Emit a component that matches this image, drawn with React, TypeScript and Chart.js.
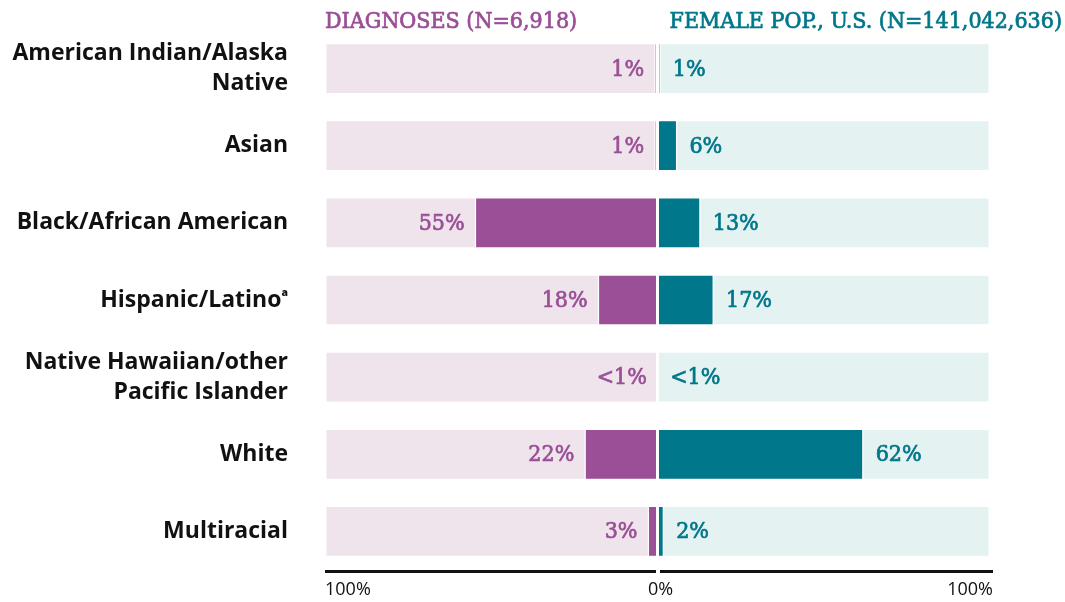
import React, { useEffect, useRef } from "react";
import { Chart, registerables } from "chart.js";

Chart.register(...registerables);

const categories: (string | string[])[] = [
  ["American Indian/Alaska", "Native"],
  "Asian",
  "Black/African American",
  "Hispanic/Latino\u1D43",
  ["Native Hawaiian/other", "Pacific Islander"],
  "White",
  "Multiracial",
];
const diagnosesValues = [1, 1, 55, 18, 0.2, 22, 3];
const populationValues = [1, 6, 13, 17, 0.2, 62, 2];
const diagnosesLabels = ["1%", "1%", "55%", "18%", "<1%", "22%", "3%"];
const populationLabels = ["1%", "6%", "13%", "17%", "<1%", "62%", "2%"];
const leftTitle = "DIAGNOSES (N=6,918)";
const rightTitle = "FEMALE POP., U.S. (N=141,042,636)";
const axisTickLabels = ["100%", "0%", "100%"];

const PURPLE = "#9A4F97";
const TEAL = "#00778A";
const PINK_BG = "#EFE3EC";
const TEAL_BG = "#E4F2F2";
const SLAB = "'DejaVu Serif Condensed', 'DejaVu Serif', serif";
const SANS = "'Open Sans', Lato, sans-serif";

function boldText(ctx: any, text: string, x: number, y: number, color: string) {
  ctx.fillStyle = color;
  ctx.strokeStyle = color;
  ctx.lineWidth = 0.7;
  ctx.lineJoin = "round";
  ctx.fillText(text, x, y);
  ctx.strokeText(text, x, y);
}

const overlayPlugin = {
  id: "overlay",
  afterDatasetsDraw(chart: any) {
    const { ctx, chartArea, scales } = chart;
    const x = scales.x;
    const y = scales.y;
    ctx.save();
    // value labels
    ctx.font = `23px ${SLAB}`;
    ctx.textBaseline = "middle";
    categories.forEach((_, i) => {
      const cy = y.getPixelForValue(i) + 1;
      ctx.textAlign = "right";
      boldText(ctx, diagnosesLabels[i], x.getPixelForValue(-diagnosesValues[i]) - 10, cy, PURPLE);
      ctx.textAlign = "left";
      boldText(ctx, populationLabels[i], x.getPixelForValue(populationValues[i]) + 12, cy, TEAL);
    });
    // titles
    ctx.font = `23px ${SLAB}`;
    ctx.textBaseline = "alphabetic";
    ctx.textAlign = "left";
    boldText(ctx, leftTitle, chartArea.left, 28, PURPLE);
    ctx.textAlign = "right";
    boldText(ctx, rightTitle, chart.width - 3, 28, TEAL);
    // axis
    const x0 = x.getPixelForValue(-100);
    const xc = x.getPixelForValue(0);
    const x1 = x.getPixelForValue(100);
    const ay = chartArea.bottom + 1.5;
    ctx.strokeStyle = "#111";
    ctx.lineWidth = 3;
    ctx.beginPath();
    ctx.moveTo(x0, ay);
    ctx.lineTo(xc - 1.5, ay);
    ctx.moveTo(xc + 2.5, ay);
    ctx.lineTo(x1 + 3, ay);
    ctx.stroke();
    ctx.font = `18px ${SANS}`;
    ctx.fillStyle = "#111";
    ctx.textBaseline = "middle";
    ctx.textAlign = "left";
    ctx.fillText(axisTickLabels[0], x0, ay + 18);
    ctx.textAlign = "center";
    ctx.fillText(axisTickLabels[1], xc + 3, ay + 18);
    ctx.textAlign = "right";
    ctx.fillText(axisTickLabels[2], x1 + 3, ay + 18);
    ctx.restore();
  },
};

export default function App() {
  const ref = useRef<HTMLCanvasElement>(null);
  useEffect(() => {
    if (!ref.current) return;
    const common = {
      borderColor: "#ffffff",
      borderWidth: 1.5,
      borderSkipped: false,
      grouped: false,
      barPercentage: 0.67,
      categoryPercentage: 1,
    };
    const chart = new Chart(ref.current, {
      type: "bar",
      data: {
        labels: categories as any,
        datasets: [
          { ...common, label: "Diagnoses", data: diagnosesValues.map((v) => [-v, 0]) as any, backgroundColor: PURPLE, order: 1 },
          { ...common, label: "Female pop.", data: populationValues.map((v) => [0, v]) as any, backgroundColor: TEAL, order: 1 },
          { ...common, label: "bgL", data: categories.map(() => [-100, 0]) as any, backgroundColor: PINK_BG, order: 2 },
          { ...common, label: "bgR", data: categories.map(() => [0, 100]) as any, backgroundColor: TEAL_BG, order: 2 },
        ],
      },
      options: {
        indexAxis: "y",
        animation: false,
        responsive: false,
        maintainAspectRatio: false,
        layout: { padding: { top: 30, right: 75, bottom: 32, left: 0 } },
        plugins: { legend: { display: false }, tooltip: { enabled: false } },
        scales: {
          x: { display: false, min: -100, max: 100 },
          y: {
            grid: { display: false, drawTicks: false, tickLength: 0 },
            border: { display: false },
            ticks: {
              padding: 37,
              color: "#111",
              font: { family: SANS, size: 23, weight: "bold", lineHeight: 1.3 },
            },
            afterFit(scale: any) {
              scale.width = 325;
              scale.paddingTop = 0;
              scale.paddingBottom = 0;
            },
          },
        },
      } as any,
      plugins: [overlayPlugin],
    });
    return () => chart.destroy();
  }, []);
  return (
    <div style={{ position: "absolute", left: 0, top: 0, width: 1065, height: 602, background: "#fff" }}>
      <canvas ref={ref} width={1065} height={602} />
    </div>
  );
}
